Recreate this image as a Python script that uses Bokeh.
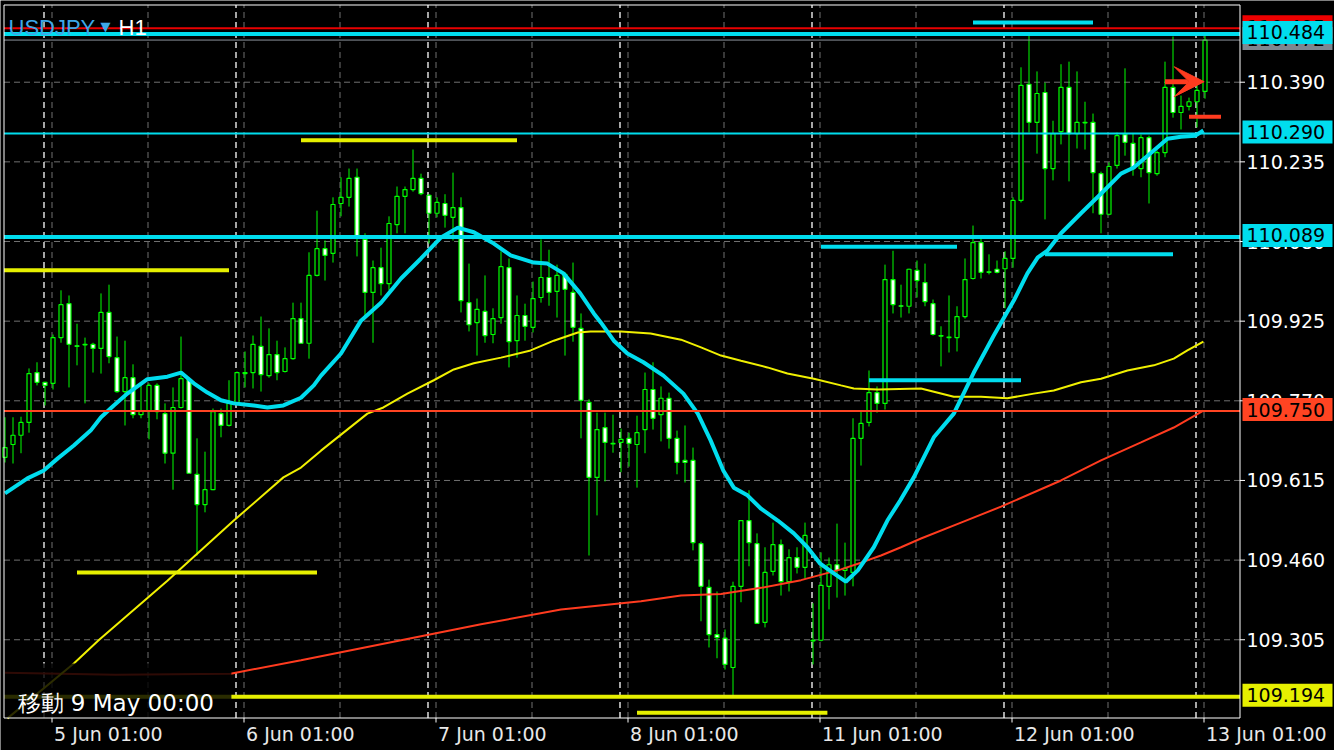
from bokeh.plotting import figure
from bokeh.models import Range1d, Label, Arrow, VeeHead, ColumnDataSource
from bokeh.core.properties import value
from bokeh.embed import file_html
from bokeh.resources import INLINE

# ---------------- data (USDJPY H1) ----------------
bars = list(range(151))
opens = [
    109.660, 109.685, 109.703, 109.728, 109.825, 109.806, 109.804, 109.893, 109.959, 109.877,
    109.880, 109.880, 109.872, 109.942, 109.854, 109.788, 109.815, 109.743, 109.751, 109.800,
    109.745, 109.668, 109.757, 109.812, 109.627, 109.568, 109.597, 109.745, 109.722, 109.765,
    109.825, 109.825, 109.876, 109.819, 109.860, 109.827, 109.852, 109.930, 109.882, 110.014,
    110.066, 110.057, 110.154, 110.166, 110.205, 110.084, 109.981, 110.029, 109.998, 110.113,
    110.168, 110.181, 110.203, 110.170, 110.135, 110.154, 110.127, 110.146, 109.961, 109.922,
    109.944, 109.899, 109.932, 110.029, 109.887, 109.936, 109.913, 109.971, 110.010, 109.983,
    110.016, 109.981, 109.911, 109.767, 109.621, 109.718, 109.687, 109.689, 109.697, 109.685,
    109.714, 109.792, 109.743, 109.775, 109.697, 109.654, 109.654, 109.492, 109.407, 109.315,
    109.308, 109.251, 109.409, 109.537, 109.492, 109.339, 109.438, 109.490, 109.418, 109.465,
    109.446, 109.304, 109.304, 109.409, 109.451, 109.440, 109.436, 109.697, 109.728, 109.786,
    109.765, 110.006, 109.955, 109.954, 110.024, 110.000, 109.959, 109.897, 109.894, 109.893,
    109.934, 110.008, 110.078, 110.021, 110.026, 110.027, 110.047, 110.160, 110.386, 110.312,
    110.370, 110.222, 110.294, 110.380, 110.290, 110.312, 110.312, 110.212, 110.133, 110.228,
    110.288, 110.271, 110.222, 110.282, 110.212, 110.253, 110.380, 110.331, 110.343, 110.352,
    110.372]
highs = [
    109.738, 109.738, 109.739, 109.833, 109.845, 109.807, 109.899, 109.985, 109.975, 109.920,
    109.893, 109.883, 109.979, 109.996, 109.895, 109.887, 109.841, 109.800, 109.804, 109.804,
    109.765, 109.796, 109.895, 109.815, 109.697, 109.671, 109.755, 109.755, 109.810, 109.827,
    109.866, 109.897, 109.934, 109.911, 109.887, 109.874, 109.961, 109.961, 110.059, 110.140,
    110.082, 110.166, 110.205, 110.222, 110.222, 110.096, 110.043, 110.068, 110.129, 110.187,
    110.187, 110.259, 110.212, 110.172, 110.166, 110.172, 110.214, 110.166, 110.037, 109.969,
    110.014, 109.950, 110.061, 110.047, 109.975, 109.959, 110.002, 110.084, 110.064, 110.035,
    110.020, 110.039, 109.940, 109.773, 109.747, 109.747, 109.743, 109.716, 109.708, 109.741,
    109.825, 109.845, 109.798, 109.786, 109.712, 109.722, 109.679, 109.496, 109.422, 109.399,
    109.325, 109.418, 109.537, 109.596, 109.512, 109.485, 109.533, 109.500, 109.481, 109.485,
    109.533, 109.376, 109.475, 109.465, 109.531, 109.494, 109.736, 109.749, 109.829, 109.798,
    110.035, 110.062, 109.996, 110.027, 110.043, 110.037, 109.967, 109.915, 109.975, 109.954,
    110.047, 110.111, 110.086, 110.055, 110.043, 110.061, 110.166, 110.419, 110.483, 110.411,
    110.389, 110.315, 110.425, 110.430, 110.411, 110.352, 110.329, 110.216, 110.234, 110.292,
    110.417, 110.290, 110.288, 110.286, 110.257, 110.430, 110.479, 110.364, 110.360, 110.386,
    110.485]
lows = [
    109.650, 109.648, 109.668, 109.708, 109.800, 109.761, 109.792, 109.883, 109.796, 109.839,
    109.765, 109.825, 109.823, 109.843, 109.786, 109.722, 109.736, 109.736, 109.695, 109.734,
    109.648, 109.597, 109.755, 109.629, 109.469, 109.553, 109.596, 109.699, 109.720, 109.761,
    109.796, 109.794, 109.788, 109.815, 109.810, 109.825, 109.850, 109.882, 109.852, 110.012,
    110.004, 110.039, 110.129, 110.148, 110.051, 109.932, 109.883, 109.975, 109.985, 110.096,
    110.096, 110.177, 110.170, 110.076, 110.127, 110.107, 110.082, 109.942, 109.905, 109.858,
    109.883, 109.882, 109.920, 109.835, 109.854, 109.887, 109.903, 109.961, 109.955, 109.932,
    109.858, 109.885, 109.697, 109.469, 109.547, 109.613, 109.669, 109.631, 109.642, 109.601,
    109.668, 109.714, 109.691, 109.677, 109.627, 109.611, 109.479, 109.341, 109.290, 109.269,
    109.247, 109.197, 109.378, 109.448, 109.337, 109.329, 109.430, 109.391, 109.399, 109.434,
    109.424, 109.257, 109.302, 109.364, 109.387, 109.391, 109.409, 109.644, 109.720, 109.747,
    109.753, 109.940, 109.932, 109.940, 109.971, 109.954, 109.897, 109.837, 109.864, 109.866,
    109.930, 110.006, 110.008, 110.016, 110.018, 109.950, 110.029, 110.156, 110.292, 110.251,
    110.123, 110.199, 110.269, 110.197, 110.261, 110.259, 110.135, 110.096, 110.131, 110.222,
    110.247, 110.208, 110.205, 110.154, 110.208, 110.244, 110.321, 110.298, 110.335, 110.302,
    110.358]
closes = [
    109.679, 109.703, 109.728, 109.823, 109.806, 109.800, 109.893, 109.957, 109.880, 109.876,
    109.879, 109.872, 109.942, 109.856, 109.788, 109.815, 109.743, 109.751, 109.800, 109.749,
    109.668, 109.757, 109.813, 109.629, 109.568, 109.597, 109.749, 109.722, 109.765, 109.825,
    109.823, 109.880, 109.821, 109.860, 109.825, 109.852, 109.930, 109.882, 110.014, 110.066,
    110.053, 110.152, 110.166, 110.203, 110.086, 109.981, 110.029, 109.998, 110.115, 110.168,
    110.181, 110.203, 110.173, 110.135, 110.156, 110.131, 110.146, 109.965, 109.918, 109.948,
    109.897, 109.930, 110.031, 109.885, 109.936, 109.915, 109.969, 110.010, 109.981, 110.014,
    109.987, 109.913, 109.771, 109.621, 109.714, 109.689, 109.686, 109.695, 109.687, 109.708,
    109.792, 109.736, 109.775, 109.697, 109.650, 109.650, 109.494, 109.409, 109.315, 109.309,
    109.257, 109.409, 109.537, 109.494, 109.337, 109.436, 109.490, 109.418, 109.465, 109.446,
    109.508, 109.303, 109.411, 109.451, 109.440, 109.444, 109.697, 109.726, 109.786, 109.765,
    110.006, 109.957, 109.954, 110.026, 110.004, 109.963, 109.899, 109.896, 109.893, 109.934,
    110.006, 110.078, 110.020, 110.020, 110.020, 110.047, 110.160, 110.384, 110.312, 110.368,
    110.222, 110.290, 110.380, 110.290, 110.312, 110.311, 110.214, 110.133, 110.226, 110.286,
    110.273, 110.222, 110.282, 110.214, 110.253, 110.380, 110.331, 110.343, 110.352, 110.374,
    110.472]

# moving averages, read at positions along the bar axis
fast_ma_x = [0, 2.8, 4.8, 6.6, 8.6, 10.7, 12, 13.6, 15.3, 17.8, 20.3, 22, 23.6, 25.3, 27, 28.6,
             31.1, 32.8, 34.8, 37, 38.6, 39.5, 42, 44.5, 47, 49.5, 52, 54.5, 56.6, 58.6, 61.1,
             63.2, 66.1, 67.8, 69.8, 71.9, 73.6, 74.5, 76.1, 77.8, 79.8, 82.3, 84.8, 86.6, 88.2,
             89.8, 91.1, 92.8, 94.5, 96.6, 98.6, 100.3, 101.9, 103.6, 105.1, 106.6, 108.6, 110.3,
             111.9, 113.6, 116.1, 118.6, 121.1, 123.6, 126.1, 127.8, 129.1, 130.3, 132, 134.5,
             137, 139.5, 141.1, 143.6, 145.3, 147, 148.8, 149.8]
fast_ma_y = [109.590, 109.619, 109.634, 109.658, 109.683, 109.712, 109.738, 109.761, 109.784,
             109.812, 109.817, 109.825, 109.804, 109.786, 109.771, 109.765, 109.761, 109.757,
             109.761, 109.776, 109.800, 109.819, 109.862, 109.926, 109.961, 110.008, 110.047,
             110.088, 110.107, 110.098, 110.076, 110.053, 110.039, 110.037, 110.018, 109.979,
             109.940, 109.922, 109.887, 109.862, 109.845, 109.819, 109.784, 109.745, 109.693,
             109.634, 109.601, 109.586, 109.560, 109.537, 109.512, 109.485, 109.453, 109.434,
             109.418, 109.440, 109.485, 109.537, 109.576, 109.621, 109.699, 109.745, 109.825,
             109.897, 109.965, 110.018, 110.049, 110.062, 110.096, 110.135, 110.173, 110.212,
             110.224, 110.257, 110.280, 110.284, 110.286, 110.296]
mid_ma_x = [0.3, 8.6, 11.7, 20.3, 28.6, 34.8, 37, 39.5, 41.1, 45.3, 47.3, 50.3, 53.6, 56.1, 58.6,
            62, 65.7, 68.6, 71.6, 73.2, 77, 80.7, 84.5, 87, 89.5, 92, 95.3, 97.8, 101.1, 104.5,
            106.1, 109.1, 114.5, 118.6, 122, 125.3, 128.6, 131.1, 134.5, 137, 140.3, 143.6,
            146.1, 147.8, 149.8]
mid_ma_y = [109.152, 109.259, 109.304, 109.420, 109.537, 109.621, 109.640, 109.673, 109.693,
            109.745, 109.757, 109.784, 109.810, 109.831, 109.843, 109.854, 109.868, 109.887,
            109.903, 109.905, 109.905, 109.901, 109.889, 109.874, 109.858, 109.848, 109.835,
            109.823, 109.813, 109.800, 109.794, 109.792, 109.794, 109.778, 109.778, 109.775,
            109.784, 109.790, 109.806, 109.813, 109.829, 109.839, 109.852, 109.868, 109.885]
slow_ma_x = [0, 13.8, 28.2, 37, 49.5, 59.5, 69.5, 79.5, 84.5, 89.5, 94.5, 99.5, 104.5, 107,
             109.5, 112, 114.5, 119.5, 124.5, 132, 137, 142, 146.1, 149.8]
slow_ma_y = [109.241, 109.237, 109.239, 109.265, 109.304, 109.335, 109.364, 109.380, 109.391,
             109.394, 109.406, 109.421, 109.442, 109.455, 109.469, 109.485, 109.502, 109.533,
             109.564, 109.615, 109.654, 109.689, 109.718, 109.751]

# full-width horizontal levels
level_prices = [110.495, 110.484, 110.472, 110.290, 110.089, 109.750, 109.194]
level_colors = ["#E80000", "#00DDEE", "#8A929B", "#00DDEE", "#00DDEE", "#FF4422", "#E6F000"]
level_widths = [2, 4, 1, 2, 4, 2, 4]
# price tags on the scale (drawn in this order, later ones on top)
tag_prices = [110.495, 110.472, 110.484, 110.290, 110.089, 109.750, 109.194]
tag_colors = ["#EE0000", "#7E8790", "#00DDEE", "#00DDEE", "#00DDEE", "#FF4422", "#E6F000"]

# short drawn level segments (bar start, bar end, price)
seg_start = [121, 37, -0.125, 102, 130, 108, 9, 79, 148]
seg_end = [136, 64, 28, 119, 146, 127, 39, 102.8, 152]
seg_price = [110.506, 110.277, 110.024, 110.070, 110.055, 109.810, 109.436, 109.163, 110.323]
seg_color = ["#00DDEE", "#E6F000", "#E6F000", "#00DDEE", "#00DDEE", "#00DDEE", "#E6F000",
             "#E6F000", "#FF3B1F"]

arrow_start, arrow_end, arrow_price = 145, 149.9, 110.391

price_ticks = [109.305, 109.460, 109.615, 109.770, 109.925, 110.080, 110.235, 110.390]
price_labels = ["109.305", "109.460", "109.615", "109.770", "109.925", "110.080", "110.235",
                "110.390"]
grid_bars = [6, 18, 30, 42, 54, 66, 78, 90, 102, 114, 126, 138, 150]
day_sep_bars = [5, 29, 53, 77, 101, 125, 149]
date_ticks = [6, 30, 54, 78, 102, 126, 150]
date_labels = ["5 Jun 01:00", "6 Jun 01:00", "7 Jun 01:00", "8 Jun 01:00",
               "11 Jun 01:00", "12 Jun 01:00", "13 Jun 01:00"]

# ---------------- geometry helpers (canvas pixels -> data) ----------------
W, H = 1334, 750
PX_PER_BAR = 8.0
BAR0_PX = 4.5
TOP_PRICE = 110.549
PRICE_PER_PX = 0.001946


def kx(px):
    return (px - BAR0_PX) / PX_PER_BAR


def py(px):
    return TOP_PRICE - px * PRICE_PER_PX


FX0, FX1 = kx(3.5), kx(1239.5)
FY_TOP, FY_BOT = py(4.5), py(717.5)

GREEN = "#00FF00"
CYAN = "#00DDEE"
GRID = "#707070"
FONT = "DejaVu Sans"

p = figure(width=W, height=H, output_backend="svg", toolbar_location=None,
           x_range=Range1d(kx(0), kx(W)), y_range=Range1d(py(H), py(0)),
           x_axis_location=None, y_axis_location=None, min_border=0,
           background_fill_color="black", border_fill_color="black",
           outline_line_color=None)
p.grid.visible = False

# grid and day separators
gx = [b - 0.125 for b in grid_bars]
p.segment(x0=gx, y0=[FY_BOT] * len(gx), x1=gx, y1=[FY_TOP] * len(gx),
          line_color=GRID, line_width=1, line_dash="6 4")
p.segment(x0=[FX0] * len(price_ticks), y0=price_ticks, x1=[FX1] * len(price_ticks),
          y1=price_ticks, line_color=GRID, line_width=1, line_dash="6 4")
sx = [b - 0.125 for b in day_sep_bars]
p.segment(x0=sx, y0=[FY_BOT] * len(sx), x1=sx, y1=[FY_TOP] * len(sx),
          line_color="white", line_width=1.3, line_dash="6 4")

# candles
tops = [max(o, c) for o, c in zip(opens, closes)]
bottoms = [min(o, c) for o, c in zip(opens, closes)]
fills = ["black" if c >= o else "white" for o, c in zip(opens, closes)]
src = ColumnDataSource(dict(x=bars, h=highs, l=lows, top=tops, bottom=bottoms, fill=fills))
p.segment(x0="x", y0="l", x1="x", y1="h", source=src, line_color=GREEN, line_width=1)
p.vbar(x="x", width=0.5, top="top", bottom="bottom", source=src,
       fill_color="fill", line_color=GREEN, line_width=1.2)

# moving averages
p.line(slow_ma_x, slow_ma_y, line_color="#FF3B1F", line_width=2)
p.line(mid_ma_x, mid_ma_y, line_color="#F0F000", line_width=2)
p.line(fast_ma_x, fast_ma_y, line_color=CYAN, line_width=4)

# horizontal levels across the chart area
n = len(level_prices)
p.segment(x0=[FX0] * n, y0=level_prices, x1=[FX1] * n, y1=level_prices,
          line_color=level_colors, line_width=level_widths)

p.segment(x0=seg_start, y0=seg_price, x1=seg_end, y1=seg_price,
          line_color=seg_color, line_width=4)

p.add_layout(Arrow(end=VeeHead(size=30, fill_color="#FF3B1F", line_color="#FF3B1F"),
                   x_start=arrow_start, y_start=arrow_price, x_end=arrow_end, y_end=arrow_price,
                   line_color="#FF3B1F", line_width=5))

# dimmed corner behind the info text
p.quad(left=[FX0], right=[28.3], bottom=[FY_BOT], top=[py(663)],
       fill_color="black", fill_alpha=0.82, line_alpha=0)

# chart border
p.quad(left=[FX0], right=[FX1], bottom=[FY_BOT], top=[FY_TOP],
       fill_alpha=0, line_color="white", line_width=1)

# price scale ticks and labels
m = len(price_ticks)
p.segment(x0=[FX1] * m, y0=price_ticks, x1=[kx(1244.5)] * m, y1=price_ticks,
          line_color="white", line_width=1)
p.text(x=[kx(1246)] * m, y=price_ticks, text=price_labels, text_color="white",
       text_font=value(FONT), text_font_size="19px", text_align="left",
       text_baseline="middle")

# time ticks and labels
dt = [t - 0.125 for t in date_ticks]
p.segment(x0=dt, y0=[FY_BOT] * len(dt), x1=dt, y1=[py(722)] * len(dt),
          line_color="white", line_width=1)
p.text(x=date_ticks, y=[py(722)] * len(date_ticks), text=date_labels, x_offset=1,
       text_color="#E8E8E8", text_font=value(FONT), text_font_size="19px",
       text_align="left", text_baseline="top")

# price tags
for pr, col in zip(tag_prices, tag_colors):
    p.rect(x=[kx(1287)], y=[pr + 1.5 * PRICE_PER_PX], width=90, height=23,
           width_units="screen", height_units="screen", fill_color=col, line_alpha=0)
    p.text(x=[kx(1246)], y=[pr + 1.5 * PRICE_PER_PX], text=[f"{pr:.3f}"], text_color="black",
           text_font=value(FONT), text_font_size="19px", text_align="left",
           text_baseline="middle")

# info text and title
p.add_layout(Label(x=17, y=H - 702, x_units="screen", y_units="screen",
                   text="移動 9 May 00:00", text_color="white", text_font=FONT,
                   text_font_size="23px", text_baseline="alphabetic"))
p.add_layout(Label(x=8, y=H - 27, x_units="screen", y_units="screen", text="USDJPY",
                   text_color="#3DA8E8", text_font="Liberation Sans", text_font_size="22px",
                   text_baseline="alphabetic"))
p.add_layout(Label(x=100, y=H - 26, x_units="screen", y_units="screen", text="▼",
                   text_color="#3DA8E8", text_font=FONT, text_font_size="13px",
                   text_baseline="alphabetic"))
p.add_layout(Label(x=118, y=H - 27, x_units="screen", y_units="screen", text="H1",
                   text_color="white", text_font="Liberation Sans", text_font_size="22px",
                   text_baseline="alphabetic"))

open("out.html", "w").write(file_html(p, INLINE))
